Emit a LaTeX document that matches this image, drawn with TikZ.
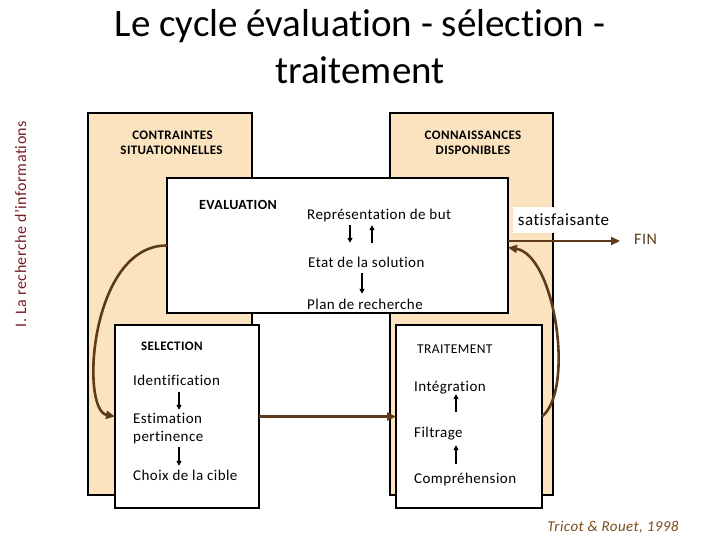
\documentclass[tikz,border=0pt]{standalone}
\usepackage{fontspec}
\setmainfont[LetterSpace=3,Ligatures=NoCommon]{Carlito}
\newfontfamily\titlefont[Ligatures=NoCommon]{Carlito}
\usetikzlibrary{arrows.meta}
\definecolor{tanfill}{HTML}{FBE3C0}
\definecolor{arrbrown}{HTML}{5E3A1A}
\definecolor{sidemaroon}{HTML}{7A1C24}
\definecolor{citebrown}{HTML}{7B4A17}
\tikzset{
  panel/.style={draw=black, line width=1.8pt, fill=tanfill, anchor=north west, inner sep=0pt, outer sep=0pt},
  wbox/.style={draw=black, line width=1.8pt, fill=white, anchor=north west, inner sep=0pt, outer sep=0pt},
  body/.style={font=\fontsize{15}{18}\selectfont, inner sep=0pt, text height=10pt, text depth=3pt, anchor=base west},
  head/.style={font=\bfseries\fontsize{13}{15}\selectfont, inner sep=0pt, anchor=base},
  blk/.style={-{Triangle[length=5pt,width=5pt]}, line width=1.6pt, black},
  brn/.style={-{Triangle[length=9pt,width=8pt]}, line width=2.6pt, arrbrown},
}
\begin{document}
\begin{tikzpicture}[x=1pt,y=-1pt]
\useasboundingbox (0,0) rectangle (720,540);
% title
\node[font=\titlefont\fontsize{39}{47}\selectfont, anchor=base, inner sep=0pt] (t1) at (360,37) {Le cycle évaluation - sélection -};
\node[font=\titlefont\fontsize{39}{47}\selectfont, anchor=base, inner sep=0pt] (t2) at (360,84) {traitement};
% side text
\node[font=\fontsize{16}{18}\selectfont, text=sidemaroon, rotate=90, anchor=base, inner sep=0pt] (side) at (26,224) {I. La recherche d’informations};
% panels
\node[panel, minimum width=164pt, minimum height=382pt] (cs) at (88,113) {};
\node[panel, minimum width=163pt, minimum height=382pt] (cd) at (390,113) {};
\node[head] (cs1) at (172.5,140) {CONTRAINTES};
\node[head] (cs2) at (171.5,155) {SITUATIONNELLES};
\node[head] (cd1) at (473,140) {CONNAISSANCES};
\node[head] (cd2) at (473,155) {DISPONIBLES};
% white boxes
\node[wbox, minimum width=341pt, minimum height=135pt] (evalbox) at (167,178) {};
\node[wbox, minimum width=144pt, minimum height=183pt] (selbox) at (115,325) {};
\node[wbox, minimum width=146pt, minimum height=183pt] (trbox) at (396,325) {};
% evaluation content
\node[head, anchor=base west, font=\bfseries\fontsize{14}{15}\selectfont] (evt) at (199,210) {EVALUATION};
\node[body] (rep) at (307,219) {Représentation de but};
\node[body] (etat) at (308,267) {Etat de la solution};
\node[body] (plan) at (307,309) {Plan de recherche};
\coordinate (xa) at (350,0);
\coordinate (xb) at (372,0);
\coordinate (xc) at (362,0);
\draw[blk, shorten <=3pt, shorten >=14pt] (rep.south -| xa) -- (etat.north -| xa);
\draw[blk, shorten <=14pt, shorten >=3pt] (etat.north -| xb) -- (rep.south -| xb);
\draw[blk, shorten <=3pt, shorten >=5pt] (etat.south -| xc) -- (plan.north -| xc);
% selection content
\node[head, anchor=base west, font=\bfseries\fontsize{13}{15}\selectfont] (selt) at (141,350) {SELECTION};
\node[body] (ident) at (133,385) {Identification};
\node[body] (estim) at (133,423) {Estimation};
\node[body] (pert) at (133,441) {pertinence};
\node[body] (choix) at (133,480) {Choix de la cible};
\coordinate (xd) at (179,0);
\draw[blk, shorten <=4pt, shorten >=3pt] (ident.south -| xd) -- (estim.north -| xd);
\draw[blk, shorten <=3pt, shorten >=4pt] (pert.south -| xd) -- (choix.north -| xd);
% traitement content
\node[anchor=base west, inner sep=0pt, font=\fontsize{13.5}{15}\selectfont] (trt) at (417,353) {TRAITEMENT};
\node[body] (integ) at (414,391) {Intégration};
\node[body] (filt) at (414,437) {Filtrage};
\node[body] (compr) at (414,483) {Compréhension};
\coordinate (xe) at (456,0);
\draw[blk, shorten <=15pt, shorten >=0pt] (filt.north -| xe) -- (integ.south -| xe);
\draw[blk, shorten <=9pt, shorten >=5pt] (compr.north -| xe) -- (filt.south -| xe);
% satisfaisante / FIN
\node[fill=white, minimum width=101pt, minimum height=26pt, inner sep=0pt, font=\fontsize{17}{18}\selectfont] (sat) at (563.5,220) {satisfaisante};
\node[anchor=base west, inner sep=0pt, text=arrbrown, font=\fontsize{16}{18}\selectfont] (fin) at (634,244) {FIN};
\draw[brn, shorten >=14pt] ([yshift=4.5pt]evalbox.east) -- ([yshift=4.5pt]evalbox.east -| fin.west);
% cycle arrows
\draw[brn] (selbox.east) -- (trbox.west);
\draw[brn] (evalbox.west) .. controls (90,245) and (80,410) .. (selbox.west);
\draw[brn] (trbox.east) .. controls (575,390) and (555,255) .. ([yshift=-2pt]evalbox.east);
% citation
\node[anchor=base, inner sep=0pt, text=citebrown, font=\itshape\fontsize{15}{18}\selectfont] (cite) at (613,531) {Tricot \& Rouet, 1998};
\end{tikzpicture}
\end{document}
